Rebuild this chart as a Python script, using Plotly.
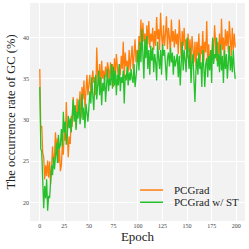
import plotly.graph_objects as go

epochs = list(range(200))

pcgrad = [
    36.2, 29.0, 29.3, 26.0, 25.5, 22.8, 24.5, 23.2, 25.1, 23.0,
    25.0, 22.2, 24.3, 26.8, 24.6, 25.8, 28.5, 26.0, 27.8, 24.8,
    26.5, 23.8, 24.5, 27.2, 25.8, 29.0, 27.5, 32.2, 28.6, 25.5,
    28.0, 27.1, 30.5, 29.2, 32.8, 30.5, 31.8, 29.0, 32.6, 30.8,
    31.5, 33.5, 30.2, 34.0, 32.5, 34.8, 31.5, 33.8, 35.5, 33.0,
    34.2, 35.5, 33.2, 34.8, 36.0, 34.5, 35.2, 33.0, 38.8, 35.5,
    34.2, 36.8, 33.5, 37.2, 35.0, 36.0, 34.8, 36.5, 35.2, 37.0,
    36.2, 34.5, 37.0, 35.5, 36.8, 34.0, 37.5, 35.2, 38.0, 36.5,
    35.0, 36.8, 35.5, 37.8, 36.2, 39.5, 35.0, 38.2, 36.5, 37.2,
    35.8, 38.5, 36.0, 37.5, 39.0, 36.2, 38.0, 39.8, 37.0, 38.5,
    37.5, 40.2, 39.0, 42.2, 38.5, 41.8, 39.5, 40.5, 38.2, 41.5,
    39.2, 42.0, 38.8, 40.5, 39.5, 41.2, 38.5, 40.8, 39.0, 42.5,
    39.8, 41.0, 38.5, 43.0, 40.2, 38.8, 41.5, 39.0, 40.5, 42.6,
    38.6, 41.2, 40.0, 38.2, 42.2, 39.5, 40.8, 38.8, 41.0, 39.2,
    40.5, 38.0, 42.2, 39.6, 37.5, 40.8, 39.0, 41.2, 38.5, 39.8,
    37.5, 40.5, 38.2, 39.8, 36.8, 40.2, 38.5, 37.0, 39.5, 36.5,
    39.5, 37.8, 40.5, 36.5, 39.0, 38.0, 40.8, 37.2, 39.5, 38.2,
    42.0, 37.0, 39.2, 36.2, 38.5, 37.5, 39.8, 38.0, 41.5, 38.5,
    37.2, 39.5, 38.0, 40.5, 36.8, 42.3, 38.5, 40.0, 37.5, 41.0,
    39.0, 40.8, 38.2, 42.0, 39.5, 37.8, 41.2, 38.5, 40.5, 38.8,
]

pcgrad_st = [
    34.0, 26.5, 26.2, 22.5, 19.3, 22.0, 20.5, 22.8, 19.0, 20.8,
    20.5, 22.5, 24.5, 23.3, 25.5, 24.0, 26.0, 27.2, 24.8, 28.2,
    26.5, 27.0, 28.9, 26.8, 31.0, 28.5, 29.8, 27.0, 28.2, 30.5,
    29.0, 30.2, 28.5, 31.0, 32.5, 29.8, 31.8, 28.8, 31.0, 30.2,
    32.5, 29.5, 30.8, 33.2, 30.0, 31.5, 29.0, 32.0, 30.5, 29.8,
    31.5, 33.5, 32.0, 35.2, 33.0, 31.2, 34.5, 35.5, 32.5, 34.2,
    36.0, 33.0, 35.2, 31.8, 34.5, 33.5, 35.5, 32.2, 34.8, 36.2,
    33.5, 35.0, 34.2, 36.8, 33.8, 36.5, 34.2, 36.0, 33.0, 35.5,
    34.2, 36.8, 33.5, 35.2, 34.5, 36.0, 32.0, 35.5, 34.8, 36.5,
    34.2, 35.8, 34.8, 36.2, 35.0, 34.5, 36.8, 34.0, 35.2, 37.0,
    38.5, 36.0, 39.5, 37.0, 41.0, 38.0, 35.0, 39.8, 37.5, 40.2,
    36.2, 38.5, 35.5, 39.0, 37.2, 38.8, 35.8, 38.0, 37.0, 34.8,
    39.5, 37.5, 36.2, 38.5, 35.5, 39.2, 37.8, 38.5, 36.0, 34.8,
    37.5, 38.2, 36.5, 38.8, 37.0, 38.2, 35.5, 37.8, 36.5, 37.5,
    38.0, 35.2, 37.8, 34.2, 36.5, 39.5, 36.0, 38.5, 37.2, 35.8,
    40.0, 37.5, 36.2, 38.8, 34.5, 37.0, 38.0, 34.8, 32.2, 36.0,
    37.5, 35.5, 38.2, 36.2, 37.0, 34.0, 38.5, 36.5, 34.0, 36.8,
    37.5, 35.2, 37.8, 36.0, 38.5, 34.5, 40.0, 36.8, 38.0, 37.5,
    40.0, 36.5, 38.0, 35.8, 39.2, 36.0, 37.8, 34.5, 38.5, 36.2,
    38.0, 35.0, 37.5, 39.0, 36.0, 37.8, 35.8, 38.5, 36.2, 35.0,
]

series_names = ["PCGrad", "PCGrad w/ ST"]
series_colors = ["#FF7F0E", "#25C02A"]

x_ticks = [0, 25, 50, 75, 100, 125, 150, 175, 200]
y_ticks = [20, 25, 30, 35, 40]

FONT = "Liberation Serif"

fig = go.Figure()
for vals, name, color in zip([pcgrad, pcgrad_st], series_names, series_colors):
    fig.add_trace(go.Scatter(x=epochs, y=vals, mode="lines", name=name,
                             line=dict(color=color, width=1.3), showlegend=False))

# compact legend drawn inside the plot (lower right)
leg_y = [0.142, 0.086]
for name, color, ly in zip(series_names, series_colors, leg_y):
    fig.add_shape(type="line", xref="paper", yref="paper",
                  x0=0.512, x1=0.619, y0=ly, y1=ly,
                  line=dict(color=color, width=1.5))
    fig.add_annotation(xref="paper", yref="paper", x=0.66, y=ly,
                       xanchor="left", yanchor="middle", showarrow=False,
                       text=name, font=dict(size=11, family=FONT, color="#222"))

fig.update_layout(
    width=249, height=249,
    margin=dict(l=30, r=4, t=3, b=28, autoexpand=False),
    paper_bgcolor="white",
    plot_bgcolor="#F2F2F2",
    font=dict(family=FONT, color="#222"),
    showlegend=False,
    xaxis=dict(range=[-9.95, 208.95], tickvals=x_ticks, automargin=False,
               tickfont=dict(size=6, family=FONT, color="#444"),
               showgrid=True, gridcolor="white", gridwidth=1,
               zeroline=False, showline=False, ticks="",
               title=dict(text="Epoch", font=dict(size=13, family=FONT, color="#222"), standoff=0)),
    yaxis=dict(range=[17.75, 44.2], tickvals=y_ticks, automargin=False,
               tickfont=dict(size=6, family=FONT, color="#444"),
               showgrid=True, gridcolor="white", gridwidth=1,
               zeroline=False, showline=False, ticks="",
               title=dict(text="The occurrence rate of GC (%)", font=dict(size=12.5, family=FONT, color="#222"), standoff=4)),
)

fig.write_html("out.html", config={"displayModeBar": False},
               post_script="document.body.style.margin='0';document.body.style.overflow='hidden';")
